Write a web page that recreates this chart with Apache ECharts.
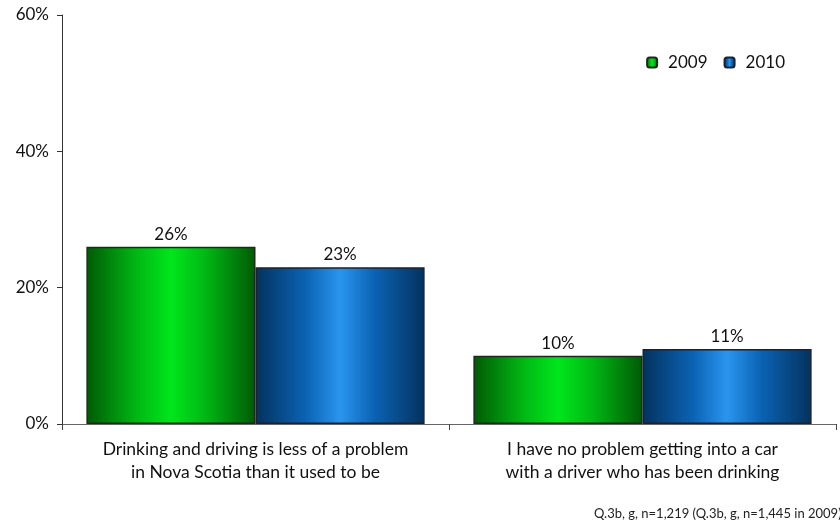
<!DOCTYPE html>
<html>
<head>
<meta charset="utf-8">
<script src="https://cdn.jsdelivr.net/npm/echarts@6/dist/echarts.min.js"></script>
<style>
  html, body { margin: 0; padding: 0; background: #fff; }
  #chart { width: 840px; height: 529px; }
</style>
</head>
<body>
<div id="chart"></div>
<script>
// Survey statements and the share agreeing in each year
const categories = [
  'Drinking and driving is less of a problem\nin Nova Scotia than it used to be',
  'I have no problem getting into a car\nwith a driver who has been drinking'
];
const values2009 = [26, 10];
const values2010 = [23, 11];
const yTicks = [0, 20, 40, 60];
const footnote = 'Q.3b, g, n=1,219 (Q.3b, g, n=1,445 in 2009)';

const FONT = 'Lato, "Open Sans", "Liberation Sans", Arial, sans-serif';

// Horizontal shading to give each bar a rounded, lit look
function shade(edge, mid, light) {
  return {
    type: 'linear', x: 0, y: 0, x2: 1, y2: 0,
    colorStops: [
      { offset: 0, color: edge },
      { offset: 0.3, color: mid },
      { offset: 0.5, color: light },
      { offset: 0.7, color: mid },
      { offset: 1, color: edge }
    ]
  };
}

const chart = echarts.init(document.getElementById('chart'));
chart.setOption({
  animation: false,
  textStyle: { fontFamily: FONT },
  grid: { left: 62, right: 4, top: 15, bottom: 105, containLabel: false },
  legend: {
    right: 50, top: 49,
    itemWidth: 10, itemHeight: 10, itemGap: 16,
    textStyle: { fontSize: 17, color: '#111', fontFamily: FONT, padding: [0, 0, 0, 6] },
    data: ['2009', '2010']
  },
  xAxis: {
    type: 'category',
    data: categories,
    axisLine: { lineStyle: { color: '#666', width: 1 } },
    axisTick: { show: true, length: 6, lineStyle: { color: '#444' } },
    axisLabel: {
      interval: 0, hideOverlap: false,
      fontSize: 17.5, color: '#111', lineHeight: 23, margin: 14, fontFamily: FONT
    }
  },
  yAxis: {
    type: 'value',
    min: yTicks[0], max: yTicks[yTicks.length - 1], interval: 20,
    axisLine: { show: true, lineStyle: { color: '#333' } },
    axisTick: { show: true, length: 5, lineStyle: { color: '#333' } },
    splitLine: { show: false },
    axisLabel: { fontSize: 17, color: '#111', margin: 13, formatter: '{value}%', fontFamily: FONT }
  },
  series: [
    {
      name: '2009', type: 'bar', data: values2009,
      barGap: '0%', barCategoryGap: '12.6%',
      itemStyle: {
        color: shade('#005a05', '#00b914', '#00e61c'),
        borderColor: '#1c2a1c', borderWidth: 1.5
      },
      label: { show: true, position: 'top', formatter: '{c}%', fontSize: 17, color: '#111', distance: 4, fontFamily: FONT }
    },
    {
      name: '2010', type: 'bar', data: values2010,
      itemStyle: {
        color: shade('#04325e', '#0b63b4', '#2a95ee'),
        borderColor: '#1a2230', borderWidth: 1.5
      },
      label: { show: true, position: 'top', formatter: '{c}%', fontSize: 17, color: '#111', distance: 4, fontFamily: FONT }
    }
  ],
  graphic: [
    {
      type: 'text', left: 594, top: 507,
      style: { text: footnote, fontSize: 13, fill: '#222', fontFamily: FONT }
    }
  ]
});
</script>
</body>
</html>
